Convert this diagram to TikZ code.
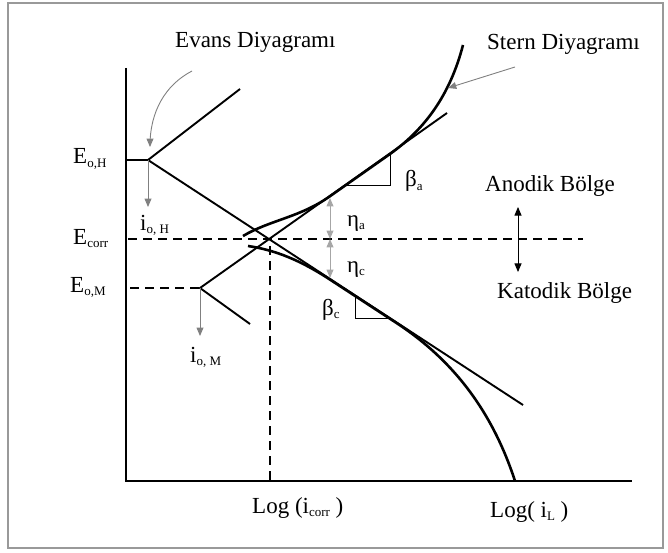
\documentclass[tikz,border=0pt]{standalone}
\usepackage{fontspec}
\setmainfont{Liberation Serif}
\usepackage{tikz}
\usetikzlibrary{arrows}
\newcommand{\lowtxt}[1]{\raisebox{-0.35ex}{\fontsize{13}{13}\selectfont #1}}
\tikzset{
  lbl/.style={anchor=base west, inner sep=0pt, font=\fontsize{23}{26}\selectfont},
  tafel/.style={line width=1.9pt},
  stern/.style={line width=2.6pt},
  guide/.style={line width=1.6pt, dash pattern=on 9pt off 6pt},
  pointer/.style={gray, line width=0.9pt, -triangle 45},
  eta/.style={gray!70, line width=0.9pt, triangle 45-triangle 45}
}

\begin{document}
\begin{tikzpicture}[x=1pt,y=-1pt]
    \useasboundingbox (0,0) rectangle (668,553);
    \draw [gray!80, line width=1.8pt] (8,3) rectangle (663,548);
    % axes
    \draw [line width=1.3pt] (126,68) -- (126,481) -- (632,481);
    \coordinate (vertH) at (148,160);
    \coordinate (vertM) at (200,288);
    \coordinate (corr) at (268,239);
                \draw [line width=1.5pt] (126,160) -- (vertH);
                \draw [guide] (128,239) -- (583,239);
                \draw [guide] (130,288) -- (vertM);
                \draw [guide] (270,246) -- (270,481);
    % Evans lines
    \draw [tafel] (240,89) -- (vertH) -- (523,405);
    \draw [tafel] (447,113) -- (vertM) -- (250,324);
    % Stern curves
    \draw [stern] (243,236) .. controls (270,220) and (300,217.4) .. (330,196.2)
          -- (390,154) .. controls (425,129) and (450,95) .. (463,45);
    \draw [stern] (248,246) .. controls (275,250) and (300,260) .. (330,279.6)
          -- (395,322) .. controls (460,364) and (495,420) .. (515,481);
    % slope triangles
    \draw [line width=1pt] (345,186) -- (390,186) -- (390,154.6);
    \draw [line width=1pt] (355,295.2) -- (355,318) -- (390,318);
    % overpotentials
    \draw [eta] (330,198) -- (330,239);
    \draw [eta] (330,239) -- (330,278);
    \draw [line width=1pt, triangle 45-triangle 45] (518,207) -- (518,272);
    \draw [pointer] (vertH) -- (148,207);
    \draw [pointer] (vertM) -- (200,336);
    % labels
    \node [lbl] (evans) at (175,48) {Evans Diyagramı};
    \node [lbl] (stern) at (487,50) {Stern Diyagramı};
    \node [lbl] (anodik) at (485,192) {Anodik Bölge};
    \node [lbl] (katodik) at (497,298) {Katodik Bölge};
    \node [lbl] (eoh) at (73,164) {E\lowtxt{o,H}};
    \node [lbl] (ecorr) at (73,244) {E\lowtxt{corr}};
    \node [lbl] (eom) at (70,292) {E\lowtxt{o,M}};
    \node [lbl] (ioh) at (140,230) {i\lowtxt{o, H}};
    \node [lbl] (iom) at (190,362) {i\lowtxt{o, M}};
    \node [lbl] (etaa) at (347,226) {η\lowtxt{a}};
    \node [lbl] (etac) at (347,272) {η\lowtxt{c}};
    \node [lbl] (betaa) at (405,187) {β\lowtxt{a}};
    \node [lbl] (betac) at (322,315) {β\lowtxt{c}};
    \node [lbl] (logcorr) at (252,513) {Log (i\lowtxt{corr} )};
    \node [lbl] (logl) at (490,517) {Log( i\lowtxt{L} )};
    % pointers to the two curves
    \coordinate (evanstail) at (192,71);
    \coordinate (evanstip) at (150,147);
    \coordinate (sterntail) at (515,67);
    \coordinate (sterntip) at (448,88);
    \draw [pointer] (evanstail) .. controls (165,85) and (150,112) .. (evanstip);
    \draw [pointer] (sterntail) -- (sterntip);
\end{tikzpicture}
\end{document}
